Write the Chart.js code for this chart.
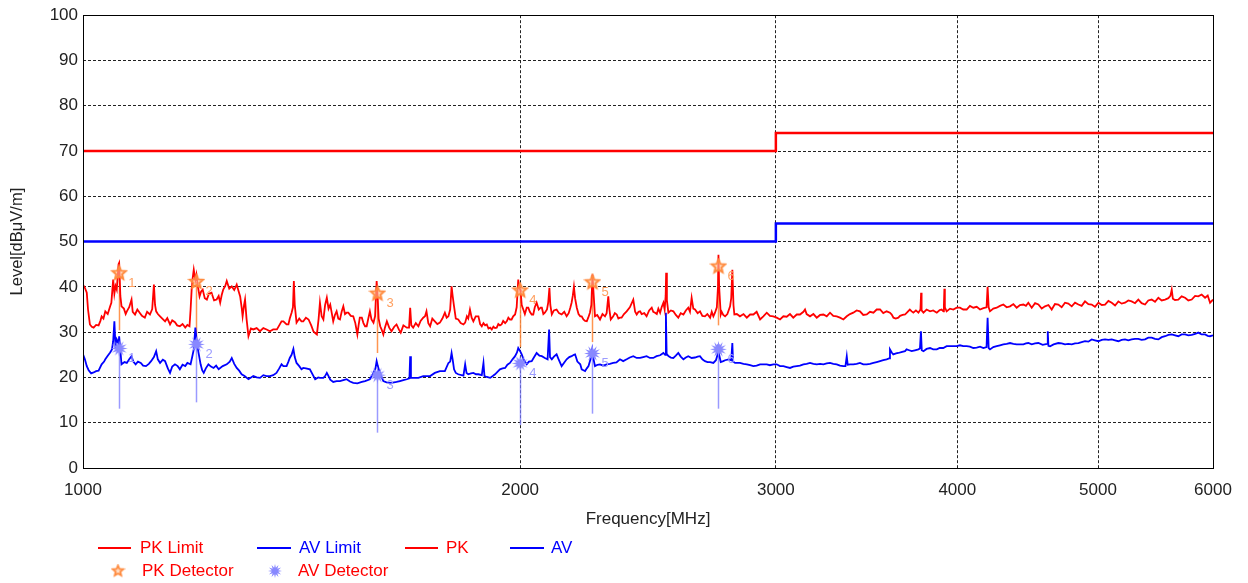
<!DOCTYPE html>
<html>
<head>
<meta charset="utf-8">
<script src="https://cdn.jsdelivr.net/npm/chart.js@4.4.0/dist/chart.umd.min.js"></script>
<style>
  html, body { margin: 0; padding: 0; background: #fff; }
  #wrap { width: 1248px; height: 583px; }
</style>
</head>
<body>
<div id="wrap"><canvas id="emcChart" width="1248" height="583"></canvas></div>
<script>
// axis ticks
const xTicks = [1000, 2000, 3000, 4000, 5000, 6000];
const yMin = 0, yMax = 100, yStep = 10;

// limit lines (step at 3 GHz)
const limitFreq = [1000, 3000, 3000, 6000];
const pkLimit = [70, 70, 74, 74];
const avLimit = [50, 50, 54, 54];

// peak trace [MHz, dBuV/m]
const pkTrace = [
  [1000,40.5],[1003,39.8],[1006,38.7],[1008,35.0],[1011,31.7],[1014,31.2],[1017,31.0],[1021,31.6],[1025,31.5],[1028,32.5],
  [1030,33.5],[1033,33.0],[1036,34.6],[1040,34.0],[1044,35.7],[1046,36.5],[1049,41.6],[1051,38.5],[1053,40.2],[1055,39.4],
  [1058,45.0],[1059,45.3],[1061,38.0],[1063,35.7],[1067,35.2],[1070,34.0],[1072,34.6],[1076,35.5],[1080,37.2],[1082,34.5],
  [1086,33.9],[1090,35.0],[1094,34.3],[1098,33.6],[1103,33.2],[1107,34.5],[1112,33.9],[1116,35.1],[1119,40.5],[1121,36.0],
  [1123,34.6],[1126,34.0],[1130,33.5],[1134,33.0],[1139,32.4],[1143,33.1],[1148,31.7],[1152,32.6],[1157,32.2],[1161,31.5],
  [1166,31.3],[1171,31.8],[1176,31.0],[1180,31.6],[1184,31.3],[1186,35.0],[1188,39.4],[1190,42.0],[1192,43.8],[1195,41.5],
  [1197,42.7],[1200,40.0],[1203,37.9],[1206,39.0],[1209,39.4],[1213,37.5],[1217,37.2],[1221,38.5],[1226,38.7],[1231,37.0],
  [1236,37.2],[1240,38.0],[1243,36.5],[1246,38.2],[1249,39.4],[1253,40.2],[1256,41.3],[1261,39.6],[1266,40.1],[1271,39.3],
  [1276,40.5],[1280,39.0],[1283,37.9],[1286,35.5],[1288,33.5],[1291,36.0],[1293,37.2],[1296,33.0],[1300,29.1],[1305,30.8],
  [1310,30.6],[1317,30.9],[1324,30.2],[1331,30.9],[1338,30.6],[1345,30.2],[1352,30.6],[1360,30.6],[1365,31.5],[1370,32.4],
  [1374,32.4],[1381,31.7],[1385,31.7],[1388,33.0],[1392,34.3],[1395,35.5],[1397,41.3],[1399,36.0],[1403,32.1],[1409,33.0],
  [1414,32.4],[1418,32.4],[1424,33.2],[1430,32.8],[1436,31.5],[1441,30.2],[1445,29.8],[1449,29.5],[1453,33.0],[1456,36.5],
  [1460,33.5],[1464,32.8],[1468,36.0],[1472,37.6],[1476,35.2],[1480,36.1],[1484,34.0],[1487,32.4],[1491,33.8],[1495,34.6],
  [1499,33.0],[1503,32.8],[1507,34.5],[1511,35.7],[1515,34.0],[1519,34.3],[1523,34.3],[1529,33.6],[1535,33.5],[1540,32.0],
  [1545,29.5],[1548,31.5],[1551,33.2],[1556,33.2],[1560,32.0],[1564,31.3],[1568,31.3],[1572,33.0],[1576,34.6],[1580,32.8],
  [1585,32.1],[1589,33.5],[1593,41.3],[1595,38.7],[1598,33.0],[1602,31.3],[1606,30.5],[1610,29.5],[1614,31.0],[1619,32.4],
  [1625,31.0],[1631,30.2],[1638,31.2],[1644,31.7],[1650,30.6],[1655,29.9],[1662,31.5],[1671,31.0],[1677,31.0],[1680,35.4],
  [1683,31.5],[1688,31.0],[1695,32.0],[1702,31.3],[1708,32.5],[1715,33.2],[1720,33.5],[1724,34.6],[1729,32.0],[1734,31.3],
  [1740,33.0],[1747,32.4],[1754,31.8],[1761,32.1],[1768,33.0],[1775,34.3],[1780,33.2],[1785,33.5],[1790,35.0],[1794,40.1],
  [1797,38.0],[1801,35.7],[1806,33.0],[1813,32.8],[1820,32.0],[1828,31.7],[1833,32.1],[1838,33.5],[1842,33.0],[1847,35.0],
  [1852,33.2],[1857,32.4],[1864,33.5],[1872,33.5],[1877,31.8],[1882,31.3],[1887,32.0],[1892,31.5],[1897,31.7],[1902,30.8],
  [1907,31.0],[1912,30.6],[1917,31.2],[1922,30.9],[1927,31.0],[1932,31.8],[1937,31.5],[1942,31.7],[1947,32.5],[1953,32.0],
  [1958,32.4],[1963,33.2],[1968,32.8],[1973,32.8],[1978,33.5],[1984,33.9],[1989,35.5],[1994,41.6],[1997,40.0],[2000,39.4],
  [2002,38.7],[2005,36.0],[2010,35.0],[2015,34.0],[2021,35.4],[2026,35.4],[2031,34.5],[2037,33.9],[2042,33.9],[2047,35.5],
  [2053,36.5],[2060,35.0],[2066,35.4],[2070,35.4],[2075,34.0],[2080,34.3],[2087,35.0],[2091,36.5],[2095,39.8],[2098,36.0],
  [2103,33.9],[2110,34.8],[2119,35.0],[2127,34.2],[2136,33.9],[2145,34.5],[2153,33.5],[2160,34.2],[2166,35.5],[2170,36.5],
  [2174,38.0],[2178,40.0],[2182,37.5],[2188,35.4],[2194,34.0],[2200,33.5],[2205,33.5],[2211,32.8],[2217,32.5],[2223,32.4],
  [2228,33.2],[2234,34.3],[2239,36.0],[2243,42.7],[2246,39.5],[2252,33.5],[2260,33.8],[2270,32.8],[2279,34.0],[2288,33.5],
  [2294,34.2],[2300,37.9],[2304,35.0],[2309,32.8],[2318,33.5],[2324,34.2],[2331,33.9],[2337,33.0],[2343,33.2],[2349,33.2],
  [2358,34.0],[2368,34.6],[2380,35.5],[2393,37.2],[2400,34.5],[2406,33.9],[2413,34.5],[2419,34.6],[2425,34.0],[2435,34.2],
  [2444,33.5],[2454,34.8],[2464,35.4],[2470,34.5],[2477,34.3],[2484,34.0],[2490,35.2],[2497,34.3],[2503,35.5],[2510,36.5],
  [2515,35.0],[2519,38.0],[2521,43.1],[2524,37.0],[2530,34.3],[2540,34.8],[2550,34.6],[2560,33.8],[2570,33.2],[2580,34.2],
  [2591,33.9],[2601,34.8],[2611,35.4],[2618,34.5],[2625,37.6],[2632,35.2],[2639,35.0],[2650,34.2],[2660,34.6],[2670,33.6],
  [2681,33.5],[2691,34.0],[2703,33.2],[2710,34.5],[2717,33.5],[2724,34.3],[2732,35.5],[2737,40.0],[2739,47.1],[2742,40.0],
  [2749,33.9],[2753,34.5],[2760,33.8],[2768,33.5],[2778,34.0],[2790,35.7],[2795,37.5],[2800,43.8],[2805,36.0],[2809,33.9],
  [2820,34.0],[2834,33.5],[2850,34.0],[2865,33.2],[2880,33.9],[2895,33.9],[2910,34.5],[2926,32.8],[2941,33.5],[2957,34.3],
  [2972,33.6],[2988,33.5],[3004,33.2],[3020,32.8],[3036,33.5],[3052,33.4],[3068,34.0],[3084,33.2],[3101,33.9],[3117,33.9],
  [3134,34.5],[3142,35.0],[3150,34.0],[3167,33.5],[3184,34.0],[3201,33.2],[3218,33.8],[3235,33.9],[3252,33.5],[3269,34.3],
  [3286,33.6],[3304,33.5],[3321,33.2],[3339,32.8],[3357,33.5],[3374,34.0],[3392,34.3],[3410,34.8],[3428,34.6],[3446,33.8],
  [3465,33.9],[3483,34.5],[3502,34.3],[3520,35.0],[3539,35.0],[3557,34.2],[3576,34.6],[3595,34.3],[3605,33.9],[3615,33.2],
  [3628,33.0],[3643,33.2],[3653,33.6],[3668,33.8],[3682,33.9],[3697,34.5],[3710,35.0],[3721,34.6],[3731,34.3],[3746,34.8],
  [3761,34.3],[3773,35.0],[3777,38.7],[3780,34.8],[3791,34.3],[3810,35.0],[3831,34.6],[3850,34.8],[3872,34.3],[3890,34.9],
  [3902,35.0],[3913,34.6],[3916,36.0],[3919,39.6],[3922,35.5],[3933,34.6],[3954,35.2],[3975,35.0],[3996,35.4],[4017,35.4],
  [4038,35.0],[4060,35.0],[4081,35.8],[4103,35.4],[4125,35.6],[4147,35.0],[4169,35.3],[4190,35.5],[4197,40.0],[4204,35.5],
  [4213,34.6],[4235,35.2],[4258,35.4],[4280,35.8],[4303,36.1],[4326,35.5],[4349,35.7],[4372,36.2],[4395,35.4],[4418,36.0],
  [4442,36.1],[4460,35.8],[4477,36.5],[4501,35.4],[4525,36.4],[4549,36.1],[4573,35.2],[4597,35.7],[4622,36.0],[4646,35.0],
  [4670,36.2],[4695,36.1],[4720,35.5],[4745,36.5],[4770,36.3],[4796,35.7],[4821,36.5],[4847,36.1],[4872,35.8],[4898,36.8],
  [4924,36.2],[4950,36.1],[4976,35.6],[5003,36.5],[5030,36.0],[5056,36.1],[5083,36.9],[5110,36.5],[5137,35.9],[5164,36.8],
  [5191,36.3],[5219,36.5],[5246,37.0],[5274,36.8],[5302,36.4],[5330,37.2],[5358,36.4],[5387,36.1],[5415,37.0],[5444,37.2],
  [5473,36.7],[5502,37.6],[5531,37.0],[5561,37.2],[5590,37.5],[5608,38.0],[5620,39.4],[5630,37.4],[5649,37.1],[5679,37.2],
  [5709,37.9],[5740,37.6],[5770,37.0],[5801,37.2],[5832,38.0],[5862,37.9],[5893,38.3],[5925,37.6],[5950,38.1],[5972,36.5],
  [6000,37.2]
];

// average trace [MHz, dBuV/m]
const avTrace = [
  [1000,25.1],[1003,24.0],[1006,22.5],[1009,21.6],[1013,20.9],[1017,21.1],[1021,21.4],[1025,21.5],[1030,22.9],[1034,23.5],
  [1036,24.0],[1040,24.8],[1044,25.5],[1047,26.2],[1049,28.0],[1051,32.4],[1053,26.5],[1055,28.4],[1058,27.5],[1059,29.1],
  [1061,26.0],[1063,22.9],[1068,23.4],[1072,23.2],[1076,24.0],[1080,24.7],[1083,23.5],[1087,22.9],[1091,23.5],[1096,23.2],
  [1100,22.6],[1105,22.5],[1110,23.0],[1114,23.6],[1119,24.5],[1123,25.8],[1126,24.0],[1130,23.2],[1135,23.9],[1139,23.6],
  [1144,22.0],[1148,21.0],[1152,22.4],[1157,22.9],[1162,22.5],[1166,21.8],[1171,22.8],[1176,22.5],[1180,23.2],[1186,22.9],
  [1189,24.5],[1192,26.2],[1195,31.0],[1198,27.6],[1201,25.5],[1205,22.9],[1208,21.6],[1211,21.0],[1215,22.0],[1220,22.9],
  [1225,22.4],[1230,22.1],[1235,22.6],[1240,21.8],[1248,22.5],[1256,22.9],[1262,23.5],[1266,24.3],[1271,23.0],[1276,22.1],
  [1281,21.5],[1286,20.7],[1292,20.3],[1300,19.6],[1310,20.3],[1317,20.0],[1324,19.9],[1331,20.5],[1338,20.3],[1345,20.3],
  [1352,20.5],[1359,21.0],[1365,22.0],[1370,22.9],[1374,22.5],[1381,22.5],[1385,23.5],[1388,24.3],[1392,25.0],[1396,26.3],
  [1399,24.5],[1403,23.2],[1409,22.5],[1414,21.8],[1418,22.1],[1424,22.0],[1433,21.8],[1440,20.5],[1445,19.6],[1452,20.0],
  [1456,19.9],[1464,19.9],[1468,20.3],[1472,21.0],[1476,20.3],[1480,19.5],[1487,19.0],[1495,19.2],[1503,19.2],[1511,19.4],
  [1519,19.6],[1527,19.1],[1535,18.8],[1545,18.7],[1556,19.0],[1564,19.2],[1576,19.6],[1585,21.0],[1590,22.0],[1593,23.6],
  [1596,22.5],[1601,21.0],[1610,19.2],[1618,18.9],[1631,18.8],[1644,19.0],[1653,19.2],[1662,19.4],[1671,19.6],[1678,19.8],
  [1680,24.7],[1682,19.9],[1690,19.9],[1702,19.9],[1715,20.3],[1725,20.3],[1734,20.3],[1747,21.0],[1761,21.4],[1775,21.4],
  [1785,23.2],[1790,23.5],[1794,25.4],[1797,24.0],[1801,21.8],[1806,21.0],[1813,20.7],[1828,20.4],[1833,22.9],[1837,21.0],
  [1842,20.7],[1850,20.9],[1857,21.0],[1865,20.7],[1872,20.7],[1882,20.5],[1887,23.2],[1890,20.3],[1897,20.1],[1907,19.9],
  [1915,20.3],[1922,20.7],[1930,21.3],[1937,21.8],[1945,22.0],[1953,22.1],[1960,22.8],[1968,23.2],[1976,24.0],[1984,24.7],
  [1990,25.5],[1994,26.5],[2000,25.8],[2005,25.1],[2012,23.8],[2021,22.9],[2028,23.5],[2037,23.6],[2045,24.5],[2053,25.4],
  [2062,24.8],[2070,24.7],[2080,24.3],[2089,24.0],[2094,30.6],[2097,24.5],[2103,24.0],[2110,24.6],[2119,25.1],[2127,23.8],
  [2136,22.5],[2145,23.3],[2153,24.0],[2162,24.5],[2170,24.7],[2178,25.0],[2182,25.1],[2190,23.5],[2200,22.9],[2205,21.8],
  [2211,21.6],[2217,21.4],[2223,22.0],[2229,22.5],[2236,24.0],[2242,26.2],[2247,24.0],[2252,22.5],[2261,22.8],[2270,22.9],
  [2282,22.6],[2294,22.9],[2306,23.0],[2318,23.2],[2330,23.3],[2343,24.0],[2355,23.6],[2368,24.0],[2380,24.4],[2393,24.7],
  [2406,24.3],[2419,24.3],[2431,24.5],[2444,24.7],[2457,24.3],[2470,24.3],[2483,24.7],[2497,24.9],[2510,25.4],[2517,25.0],
  [2520,34.3],[2523,25.2],[2530,24.7],[2540,24.4],[2550,24.3],[2560,24.8],[2570,25.4],[2580,24.6],[2591,24.0],[2601,24.4],
  [2611,24.7],[2625,24.3],[2639,24.4],[2650,24.6],[2660,24.7],[2670,24.0],[2681,23.6],[2692,23.4],[2703,23.4],[2717,23.2],
  [2728,23.8],[2735,25.0],[2739,27.3],[2742,25.0],[2749,23.4],[2760,23.6],[2768,23.8],[2783,24.0],[2795,23.8],[2800,27.6],
  [2803,23.5],[2812,23.2],[2834,23.2],[2850,23.0],[2865,22.9],[2880,22.7],[2895,22.5],[2910,22.6],[2926,22.9],[2941,22.9],
  [2957,22.9],[2972,22.7],[2988,22.9],[3004,22.9],[3020,22.5],[3036,22.5],[3052,22.3],[3068,22.1],[3084,22.4],[3101,22.5],
  [3117,22.6],[3134,22.9],[3150,23.0],[3167,23.2],[3184,23.0],[3201,22.9],[3218,23.0],[3235,22.9],[3252,23.1],[3269,23.2],
  [3286,23.0],[3304,22.9],[3321,22.6],[3339,22.5],[3350,22.5],[3357,24.7],[3362,22.8],[3374,22.9],[3392,22.9],[3410,23.0],
  [3428,23.2],[3446,22.9],[3465,22.9],[3483,23.0],[3502,23.2],[3520,23.4],[3539,23.6],[3557,23.8],[3576,24.0],[3590,24.2],
  [3595,26.2],[3605,25.5],[3614,25.1],[3630,25.3],[3643,25.4],[3660,25.6],[3682,25.8],[3691,26.2],[3706,26.0],[3721,25.8],
  [3740,26.0],[3761,26.2],[3770,26.4],[3776,30.2],[3781,26.0],[3791,25.8],[3810,26.3],[3831,26.5],[3850,26.2],[3872,26.2],
  [3890,26.5],[3912,26.5],[3933,26.9],[3954,26.9],[3975,26.9],[3996,26.9],[4017,27.1],[4038,26.9],[4060,26.9],[4081,26.8],
  [4103,26.5],[4125,26.6],[4147,26.8],[4169,26.5],[4190,26.7],[4197,33.2],[4204,26.5],[4213,26.2],[4235,26.7],[4258,26.9],
  [4280,27.1],[4303,27.3],[4326,27.4],[4349,27.6],[4372,27.4],[4395,27.3],[4418,27.3],[4442,27.3],[4460,27.5],[4477,27.6],
  [4501,27.3],[4525,27.5],[4549,27.6],[4580,27.2],[4612,27.4],[4617,30.2],[4622,27.0],[4634,26.9],[4660,27.3],[4695,27.6],
  [4720,27.5],[4745,27.3],[4770,27.4],[4796,27.3],[4821,27.5],[4847,27.6],[4872,27.8],[4898,28.0],[4924,27.9],[4950,28.4],
  [4976,28.2],[5003,28.0],[5030,28.3],[5056,28.4],[5083,28.3],[5110,28.4],[5137,28.2],[5164,28.0],[5191,28.3],[5219,28.4],
  [5246,28.2],[5274,28.4],[5302,28.5],[5330,28.5],[5358,28.3],[5387,28.4],[5415,28.8],[5444,28.8],[5473,28.5],[5502,28.4],
  [5531,28.9],[5561,29.1],[5590,29.4],[5620,29.5],[5650,29.3],[5679,29.1],[5709,29.5],[5740,29.5],[5770,29.3],[5801,29.4],
  [5832,29.6],[5862,29.9],[5893,29.5],[5925,29.5],[5950,29.2],[5972,29.1],[6000,29.3]
];

// detector readings
const markerFreq = [1059, 1197, 1595, 2000, 2243, 2739];
const markerLabels = ['1', '2', '3', '4', '5', '6'];
const pkDetector = [43.0, 41.1, 38.5, 39.2, 41.0, 44.5];
const avDetector = [26.4, 27.3, 20.5, 23.1, 25.3, 26.2];
const pkStemLow = [30.4, 28.2, 25.4, 26.7, 27.8, 31.5];
const avStemLow = [13.1, 14.5, 7.8, 9.5, 12.0, 13.1];

const FONT = '"Liberation Sans", Arial, sans-serif';
const RED = '#ff0000';
const BLUE = '#0000ff';
const PK_MARK = '#ff8a3d';
const AV_MARK = '#8888ff';

function makeStar(points, outer, inner, fill, stroke, lw) {
  const size = Math.ceil(outer * 2 + lw + 2);
  const c = document.createElement('canvas');
  c.width = c.height = size;
  const g = c.getContext('2d');
  g.translate(size / 2, size / 2);
  g.beginPath();
  for (let k = 0; k < points * 2; k++) {
    const r = k % 2 ? inner : outer;
    const a = -Math.PI / 2 + k * Math.PI / points;
    g.lineTo(r * Math.cos(a), r * Math.sin(a));
  }
  g.closePath();
  if (fill) { g.fillStyle = fill; g.fill(); }
  if (stroke) { g.strokeStyle = stroke; g.lineWidth = lw; g.stroke(); }
  return c;
}

const pkStar = makeStar(5, 7, 3.2, 'rgba(255,200,160,0.6)', PK_MARK, 2);
const avStar = makeStar(12, 8.5, 4, AV_MARK, null, 0);
const pkStarSmall = makeStar(5, 5.5, 2.5, 'rgba(255,200,160,0.6)', PK_MARK, 1.8);
const avStarSmall = makeStar(12, 7, 3.3, AV_MARK, null, 0);

const toPoints = (xs, ys) => xs.map((f, i) => ({ x: f, y: ys[i] }));
const pairs = arr => arr.map(p => ({ x: p[0], y: p[1] }));

const extras = {
  id: 'extras',
  beforeDatasetsDraw(chart) {
    const { ctx, scales: { x, y } } = chart;
    ctx.save();
    ctx.lineWidth = 1.5;
    markerFreq.forEach((f, i) => {
      const px = Math.round(x.getPixelForValue(f)) + 0.5;
      ctx.strokeStyle = 'rgba(255,138,61,0.9)';
      ctx.beginPath();
      ctx.moveTo(px, y.getPixelForValue(pkDetector[i]));
      ctx.lineTo(px, y.getPixelForValue(pkStemLow[i]));
      ctx.stroke();
      ctx.strokeStyle = 'rgba(120,120,255,0.75)';
      ctx.beginPath();
      ctx.moveTo(px, y.getPixelForValue(avDetector[i]));
      ctx.lineTo(px, y.getPixelForValue(avStemLow[i]));
      ctx.stroke();
    });
    ctx.restore();
  },
  afterDatasetsDraw(chart) {
    const { ctx, scales: { x, y } } = chart;
    ctx.save();
    ctx.font = '13px ' + FONT;
    ctx.textAlign = 'left';
    ctx.textBaseline = 'middle';
    markerFreq.forEach((f, i) => {
      const px = x.getPixelForValue(f);
      ctx.fillStyle = '#ffa060';
      ctx.fillText(markerLabels[i], px + 9, y.getPixelForValue(pkDetector[i]) + 10);
      ctx.fillStyle = '#9c9cff';
      ctx.fillText(markerLabels[i], px + 9, y.getPixelForValue(avDetector[i]) + 10);
    });
    ctx.restore();
  },
  afterDraw(chart) {
    const { ctx, chartArea: a } = chart;
    ctx.save();
    // plot frame
    ctx.strokeStyle = '#000';
    ctx.lineWidth = 1;
    ctx.strokeRect(Math.round(a.left) + 0.5, Math.round(a.top) + 0.5,
                   Math.round(a.right - a.left), Math.round(a.bottom - a.top));
    // legend
    ctx.font = '17px ' + FONT;
    ctx.textBaseline = 'middle';
    ctx.textAlign = 'left';
    const row1 = 548, row2 = 571;
    const lines = [
      { x0: 98, x1: 131, tx: 140, color: RED, text: 'PK Limit' },
      { x0: 257, x1: 291, tx: 299, color: BLUE, text: 'AV Limit' },
      { x0: 405, x1: 438, tx: 446, color: RED, text: 'PK' },
      { x0: 510, x1: 544, tx: 551, color: BLUE, text: 'AV' }
    ];
    lines.forEach(l => {
      ctx.strokeStyle = l.color;
      ctx.lineWidth = 2;
      ctx.beginPath();
      ctx.moveTo(l.x0, row1);
      ctx.lineTo(l.x1, row1);
      ctx.stroke();
      ctx.fillStyle = l.color;
      ctx.fillText(l.text, l.tx, row1);
    });
    ctx.drawImage(pkStarSmall, 118 - pkStarSmall.width / 2, row2 - pkStarSmall.height / 2);
    ctx.fillStyle = RED;
    ctx.fillText('PK Detector', 142, row2);
    ctx.drawImage(avStarSmall, 275 - avStarSmall.width / 2, row2 - avStarSmall.height / 2);
    ctx.fillText('AV Detector', 298, row2);
    ctx.restore();
  }
};

const tickFont = { family: FONT, size: 17 };

new Chart(document.getElementById('emcChart').getContext('2d'), {
  type: 'line',
  data: {
    datasets: [
      { label: 'PK Detector', data: toPoints(markerFreq, pkDetector), showLine: false,
        pointStyle: pkStar, pointRadius: 7, order: 0 },
      { label: 'AV Detector', data: toPoints(markerFreq, avDetector), showLine: false,
        pointStyle: avStar, pointRadius: 8, order: 0 },
      { label: 'PK Limit', data: toPoints(limitFreq, pkLimit), borderColor: RED,
        borderWidth: 2.5, pointRadius: 0, order: 1 },
      { label: 'AV Limit', data: toPoints(limitFreq, avLimit), borderColor: BLUE,
        borderWidth: 2.5, pointRadius: 0, order: 1 },
      { label: 'PK', data: pairs(pkTrace), borderColor: RED, borderWidth: 1.8,
        pointRadius: 0, order: 2 },
      { label: 'AV', data: pairs(avTrace), borderColor: BLUE, borderWidth: 1.8,
        pointRadius: 0, order: 2 }
    ]
  },
  options: {
    responsive: false,
    animation: false,
    layout: { padding: { top: 14, right: 35, bottom: 53, left: 0 } },
    elements: { line: { tension: 0, fill: false } },
    plugins: { legend: { display: false }, tooltip: { enabled: false } },
    scales: {
      x: {
        type: 'logarithmic',
        min: 1000,
        max: 6000,
        afterBuildTicks: s => { s.ticks = xTicks.map(v => ({ value: v })); },
        afterFit: s => { s.height = 62; },
        grid: { color: '#222', lineWidth: 1, drawTicks: false },
        border: { display: false, dash: [3, 2] },
        ticks: { font: tickFont, color: '#222', padding: 12, maxRotation: 0, autoSkip: false,
                 callback: v => String(v) },
        title: { display: true, text: 'Frequency[MHz]', font: { family: FONT, size: 17 },
                 color: '#222', padding: { top: 0, bottom: 0 } }
      },
      y: {
        min: yMin,
        max: yMax,
        afterFit: s => { s.width = 83; },
        grid: { color: '#222', lineWidth: 1, drawTicks: false },
        border: { display: false, dash: [3, 2] },
        ticks: { stepSize: yStep, font: tickFont, color: '#222', padding: 5 },
        title: { display: true, text: 'Level[dBμV/m]', font: { family: FONT, size: 16.5 },
                 color: '#222', padding: { top: 8, bottom: 0 } }
      }
    }
  },
  plugins: [extras]
});
</script>
</body>
</html>
